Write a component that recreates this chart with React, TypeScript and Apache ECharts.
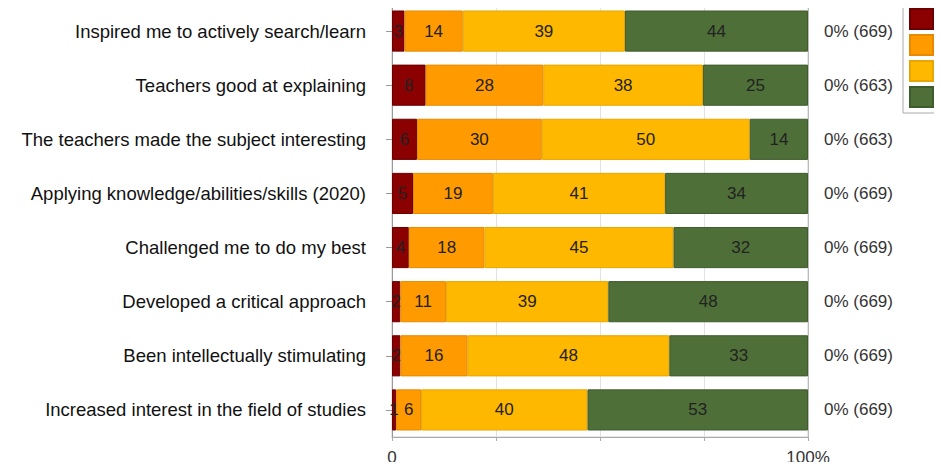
import React, { useEffect, useRef } from "react";
import * as echarts from "echarts";

const categories = [
  "Inspired me to actively search/learn",
  "Teachers good at explaining",
  "The teachers made the subject interesting",
  "Applying knowledge/abilities/skills (2020)",
  "Challenged me to do my best",
  "Developed a critical approach",
  "Been intellectually stimulating",
  "Increased interest in the field of studies",
];
const seriesNames = ["1", "2", "3", "4"];
const s1 = [3, 8, 6, 5, 4, 2, 2, 1];
const s2 = [14, 28, 30, 19, 18, 11, 16, 6];
const s3 = [39, 38, 50, 41, 45, 39, 48, 40];
const s4 = [44, 25, 14, 34, 32, 48, 33, 53];
const noReply = [0, 0, 0, 0, 0, 0, 0, 0];
const counts = [669, 663, 663, 669, 669, 669, 669, 669];
const xTickLabels: Record<number, string> = { 0: "0", 100: "100%" };
const colors = ["#8B0000", "#FF9A00", "#FFB800", "#4E6F37"];
const borders = ["#6a0000", "#e88a00", "#e8a600", "#3f5c2c"];

const FONT = "'Liberation Sans', Arial, sans-serif";

export default function App() {
  const ref = useRef<HTMLDivElement>(null);
  useEffect(() => {
    if (!ref.current) return;
    const chart = echarts.init(ref.current, null, { renderer: "svg" });
    const raw = [s1, s2, s3, s4];
    const sums = categories.map((_, i) => raw.reduce((a, s) => a + s[i], 0));
    chart.setOption({
      animation: false,
      textStyle: { fontFamily: FONT },
      legend: {
        orient: "vertical",
        left: 903,
        top: 2,
        padding: [6, 6, 5, 6],
        itemWidth: 23,
        itemHeight: 20,
        itemGap: 4,
        icon: "rect",
        borderColor: "#aaa",
        borderWidth: 1,
        data: seriesNames,
        textStyle: { fontSize: 16, color: "#333", fontFamily: FONT },
      },
      grid: {
        left: 392,
        right: 134,
        top: 4,
        bottom: 33,
        show: true,
        borderColor: "#cfcfcf",
        borderWidth: 1,
      },
      xAxis: {
        type: "value",
        min: 0,
        max: 100,
        interval: 25,
        axisLine: { show: true, lineStyle: { color: "#aaa" } },
        axisTick: { show: true, length: 4, lineStyle: { color: "#aaa" } },
        splitLine: { show: true, lineStyle: { color: "#e2e2e2" } },
        axisLabel: {
          fontSize: 17,
          color: "#333",
          margin: 12,
          fontFamily: FONT,
          formatter: (v: number) => xTickLabels[v] ?? "",
        },
      },
      yAxis: [
        {
          type: "category",
          data: categories,
          inverse: true,
          axisLine: { show: true, lineStyle: { color: "#999" } },
          axisTick: { show: true, length: 6, alignWithLabel: true, lineStyle: { color: "#999" } },
          axisLabel: { fontSize: 18.5, color: "#111", margin: 26, fontFamily: FONT },
        },
        {
          type: "category",
          data: categories,
          inverse: true,
          position: "right",
          axisLine: { show: true, lineStyle: { color: "#bbb" } },
          axisTick: { show: false },
          axisLabel: {
            fontSize: 17,
            color: "#333",
            margin: 16,
            fontFamily: FONT,
            formatter: (_: string, i: number) => `${noReply[i]}% (${counts[i]})`,
          },
        },
      ],
      series: raw.map((vals, k) => ({
        name: seriesNames[k],
        type: "bar",
        stack: "total",
        barCategoryGap: "24%",
        itemStyle: { color: colors[k], borderColor: borders[k], borderWidth: 1 },
        label: {
          show: true,
          position: "inside",
          fontSize: 17,
          color: "#222",
          fontFamily: FONT,
          formatter: (p: any) => String(vals[p.dataIndex]),
        },
        data: vals.map((v, i) => (v / sums[i]) * 100),
      })),
    });
    return () => chart.dispose();
  }, []);
  return <div ref={ref} style={{ width: 942, height: 470, margin: -8 }} />;
}
